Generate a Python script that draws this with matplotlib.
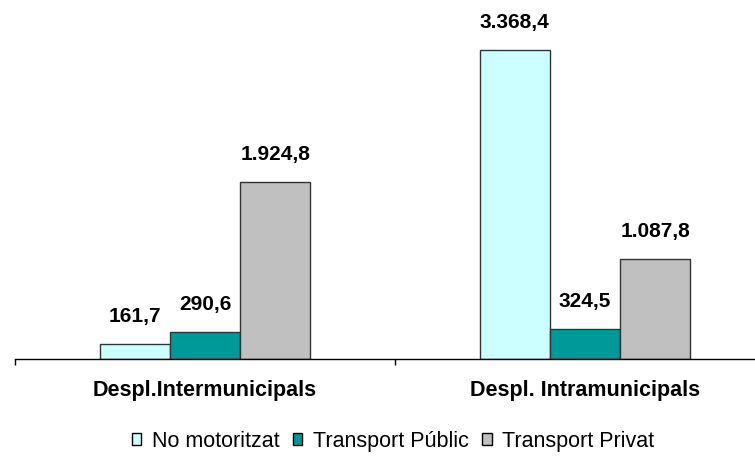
import matplotlib
matplotlib.use("Agg")
import matplotlib.pyplot as plt
import numpy as np

categories = ["Despl.Intermunicipals", "Despl. Intramunicipals"]
series_names = ["No motoritzat", "Transport Públic", "Transport Privat"]
no_motoritzat = [161.7, 3368.4]
transport_public = [290.6, 324.5]
transport_privat = [1924.8, 1087.8]
colors = ["#CCFFFF", "#009999", "#C0C0C0"]

def fmt(v):
    s = f"{v:,.1f}"
    return s.replace(",", "X").replace(".", ",").replace("X", ".")

plt.rcParams['font.family'] = ['Liberation Sans', 'DejaVu Sans']

fig = plt.figure(figsize=(7.55, 4.65), dpi=100)
ax = fig.add_axes([15/755, 1 - 359/465, 740/755, 348.5/465])

x = np.arange(len(categories))
w = 0.185
series = [no_motoritzat, transport_public, transport_privat]
for i, (vals, c, name) in enumerate(zip(series, colors, series_names)):
    pos = x + (i - 1) * w
    ax.bar(pos, vals, width=w, color=c, edgecolor="#333333", linewidth=1.0, label=name)
    for p, v in zip(pos, vals):
        ax.annotate(fmt(v), (p, v), xytext=(0, 28), textcoords="offset pixels",
                    ha="center", va="center", fontsize=15, fontweight="bold",
                    annotation_clip=False)

ax.set_xlim(-0.5, -0.5 + 740/380)
ax.set_ylim(0, 3800)
for s in ["top", "right", "left"]:
    ax.spines[s].set_visible(False)
ax.spines["bottom"].set_linewidth(1.0)
ax.set_yticks([])
ax.set_xticks([-0.5, 0.5])
ax.set_xticklabels([])
ax.tick_params(axis="x", direction="out", length=4, width=1)
for xi, cat in zip(x, categories):
    ax.text(xi, -0.09, cat, transform=ax.get_xaxis_transform(), ha="center", va="center",
            fontsize=15.5, fontweight="bold")

leg = fig.legend(loc="center", bbox_to_anchor=(393/755, 1 - 441/465), ncol=3, frameon=False,
                 fontsize=15.5, handlelength=0.45, handleheight=0.45, handletextpad=0.5,
                 columnspacing=0.6)
for h in leg.legend_handles:
    h.set_edgecolor("black")
    h.set_linewidth(1.0)

fig.savefig("out.png", dpi=100)
